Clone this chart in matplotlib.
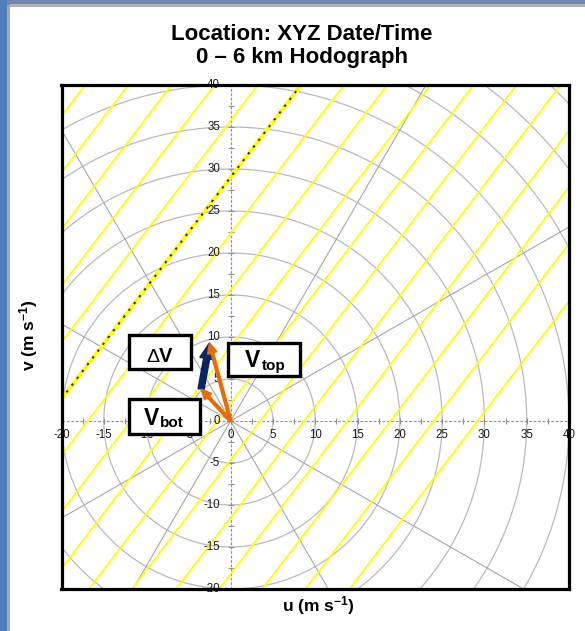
import numpy as np
import matplotlib
matplotlib.use("Agg")
import matplotlib.pyplot as plt
from matplotlib.patches import Rectangle

plt.rcParams['font.family'] = ['Liberation Sans', 'DejaVu Sans']
plt.rcParams['mathtext.fontset'] = 'custom'
plt.rcParams['mathtext.bf'] = 'Liberation Sans:bold'
plt.rcParams['mathtext.rm'] = 'Liberation Sans'
plt.rcParams['mathtext.it'] = 'Liberation Sans:italic'

# ---- data ----
u_limits = [-20, 40]
v_limits = [-20, 40]
tick_values = [-20, -15, -10, -5, 0, 5, 10, 15, 20, 25, 30, 35, 40]
minor_tick_step = 2.5
ring_radii = [5, 10, 15, 20, 25, 30, 35, 40, 45, 50, 55, 60]
radial_angles_deg = [30, 60, 120, 150, 210, 240, 300, 330]
yellow_slope = 1.32
yellow_u_intercepts = [-47.5, -42.4, -37.3, -32.2, -27.1, -22.0, -16.9, -11.8,
                       -6.7, -1.6, 3.5, 8.7, 13.8, 18.9, 24.0, 29.2]
dashed_u_intercept = -22.0
v_bot = (-3.5, 3.8)
v_top = (-2.5, 9.3)

title_lines = ["Location: XYZ Date/Time", "0 \u2013 6 km Hodograph"]

W, H = 585, 631
fig = plt.figure(figsize=(W / 100, H / 100), dpi=100)
fig.patch.set_facecolor('white')

# frame decoration
fig.patches.append(Rectangle((0, 0), 7 / W, 1, transform=fig.transFigure,
                             facecolor='#4f7fbf', edgecolor='none', zorder=0))
fig.patches.append(Rectangle((7 / W, 0), 2.5 / W, 1 - 5 / H, transform=fig.transFigure,
                             facecolor='#a9a9a9', edgecolor='none', zorder=0))
fig.patches.append(Rectangle((7 / W, 1 - 4.5 / H), 1, 4.5 / H, transform=fig.transFigure,
                             facecolor='#7189ad', edgecolor='none', zorder=0))
fig.patches.append(Rectangle((9.5 / W, 1 - 6.5 / H), 1, 2 / H, transform=fig.transFigure,
                             facecolor='#b0b0b0', edgecolor='none', zorder=0))

ax = fig.add_axes([61.5 / W, 42 / H, 507.5 / W, 504 / H])
ax.set_xlim(*u_limits)
ax.set_ylim(*v_limits)
ax.set_xticks([])
ax.set_yticks([])
for s in ax.spines.values():
    s.set_linewidth(2.3)
    s.set_color('black')
    s.set_zorder(10)

# rings
th = np.linspace(0, 2 * np.pi, 1441)
for r in ring_radii:
    ax.plot(r * np.cos(th), r * np.sin(th), color='#b9b9b9', lw=0.9, zorder=1)

# radial lines
for a in radial_angles_deg:
    ar = np.deg2rad(a)
    ax.plot([0, 100 * np.cos(ar)], [0, 100 * np.sin(ar)], color='#a6a6a6', lw=0.8, zorder=1)

# axes through origin
ax.axhline(0, color='#8f8f8f', lw=0.8, ls=(0, (2.5, 1.5)), zorder=1.5)
ax.axvline(0, color='#8f8f8f', lw=0.8, ls=(0, (2.5, 1.5)), zorder=1.5)
minor = np.arange(u_limits[0], u_limits[1] + 0.01, minor_tick_step)
ax.plot(minor, np.zeros_like(minor), ls='none', marker='|', ms=5, mew=0.8, color='#8f8f8f', zorder=1.5)
ax.plot(np.zeros_like(minor), minor, ls='none', marker='_', ms=5, mew=0.8, color='#8f8f8f', zorder=1.5)

# tick labels
for t in tick_values:
    ax.annotate(str(t), (t, 0), xytext=(0, -13.5), textcoords='offset pixels',
                ha='center', va='center', fontsize=8.3, color='#1a1a1a', zorder=3)
    ax.annotate(str(t), (0, t), xytext=(-10.5, 0), textcoords='offset pixels',
                ha='right', va='center', fontsize=8.3, color='#1a1a1a', zorder=3)

# yellow lines
vv = np.array(v_limits, dtype=float)
for u0 in yellow_u_intercepts:
    ax.plot(u0 + vv / yellow_slope, vv, color='#ffff00', lw=1.3, zorder=2)
ax.plot(dashed_u_intercept + vv / yellow_slope, vv, color='#ffff00', lw=2.8, zorder=2.1)
ax.plot(dashed_u_intercept + vv / yellow_slope, vv, color='#1c2a4a', lw=1.4,
        ls=(0, (1.2, 3.2)), zorder=2.2)

# arrows
navy = '#0c2662'
orange = '#e56c0c'
ax.arrow(v_bot[0], v_bot[1], v_top[0] - v_bot[0], v_top[1] - v_bot[1],
         width=0.72, head_width=1.65, head_length=1.9, length_includes_head=True,
         color=navy, zorder=5)
for vec in (v_bot, v_top):
    ax.arrow(0, 0, vec[0], vec[1], width=0.33, head_width=1.15, head_length=1.25,
             length_includes_head=True, color=orange, zorder=5.5)

# label boxes
boxes = [(-11.97, 6.15, 7.27, 4.09), (-0.26, 5.36, 8.48, 3.89), (-11.97, -1.5, 8.37, 4.1)]
for (bx, by, bw, bh) in boxes:
    ax.add_patch(Rectangle((bx, by), bw, bh, facecolor='white', edgecolor='black',
                           lw=2.4, zorder=7))
ax.text(-10.0, 7.06, '\u0394', ha='left', va='baseline', fontsize=14, zorder=8)
ax.text(-8.45, 7.06, 'V', ha='left', va='baseline', fontsize=14.5, fontweight='bold', zorder=8)
ax.text(1.65, 6.46, 'V', ha='left', va='baseline', fontsize=16.5, fontweight='bold', zorder=8)
ax.text(3.65, 6.02, 'top', ha='left', va='baseline', fontsize=11, fontweight='bold', zorder=8)
ax.text(-10.3, -0.48, 'V', ha='left', va='baseline', fontsize=16.5, fontweight='bold', zorder=8)
ax.text(-8.35, -0.68, 'bot', ha='left', va='baseline', fontsize=11, fontweight='bold', zorder=8)

# titles & axis labels
fig.text(302 / W, 1 - 34 / H, title_lines[0], ha='center', va='center', fontsize=16, fontweight='bold')
fig.text(302 / W, 1 - 58 / H, title_lines[1], ha='center', va='center', fontsize=16, fontweight='bold')
fig.text(318 / W, 1 - 606 / H, r'u (m s$^{\mathbf{-1}}$)', ha='center', va='center',
         fontsize=12.5, fontweight='bold')
fig.text(29 / W, 1 - 335 / H, r'v (m s$^{\mathbf{-1}}$)', ha='center', va='center',
         fontsize=12.5, fontweight='bold', rotation=90)

fig.savefig('out.png', dpi=100)
